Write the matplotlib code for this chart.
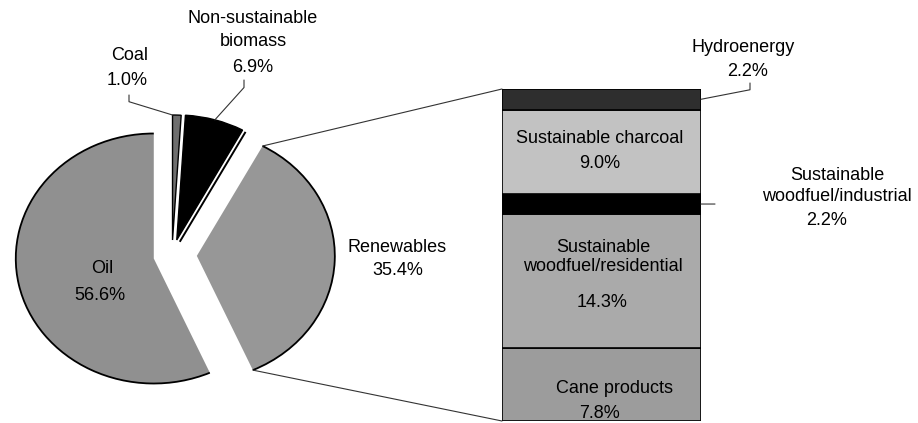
"""Primary energy mix pie with renewables breakdown bar."""

import numpy as np
import matplotlib

matplotlib.use("Agg")
import matplotlib.pyplot as plt
from matplotlib.patches import Arc, ConnectionPatch

# pie: clockwise from 12 o'clock
pie_labels = ["Coal", "Non-sustainable\nbiomass", "Renewables", "Oil"]
pie_values = [1.0, 6.9, 35.4, 56.6]
pie_colors = ["#6e6e6e", "#000000", "#979797", "#909090"]
pie_explode = [0.12, 0.125, 0.18, 0.135]

# renewables breakdown, stacked from the bottom
bar_labels = [
    "Cane products",
    "Sustainable\nwoodfuel/residential",
    "Sustainable\nwoodfuel/industrial",
    "Sustainable charcoal",
    "Hydroenergy",
]
bar_values = [7.8, 14.3, 2.2, 9.0, 2.2]
bar_colors = ["#9c9c9c", "#aaaaaa", "#000000", "#c2c2c2", "#2e2e2e"]

W, H = 918, 423
FONT = "Liberation Sans"
FS = 13


def fx(x):
    return x / W


def fy(y):
    return 1 - y / H


def label(fig, x, y, s, ls=1.2):
    fig.text(fx(x), fy(y), s, ha="center", va="center", family=FONT,
             fontsize=FS, linespacing=ls)


fig = plt.figure(figsize=(W / 100, H / 100), dpi=100)

# ---- pie (elliptical: auto aspect) ----
rx, ry = 138, 125
cx, cy = 172, 255
ax_pie = fig.add_axes([fx(cx - 1.5 * rx), fy(cy + 1.5 * ry), 3 * rx / W, 3 * ry / H])
wedges, _ = ax_pie.pie(
    pie_values,
    explode=pie_explode,
    colors=pie_colors,
    startangle=90,
    counterclock=False,
    wedgeprops=dict(edgecolor="black", linewidth=1.0),
)
ax_pie.set_aspect("auto")
ax_pie.set_xlim(-1.5, 1.5)
ax_pie.set_ylim(-1.5, 1.5)
ax_pie.axis("off")

# big slices: outline only on the outer arc
for w in (wedges[2], wedges[3]):
    w.set_edgecolor("none")
    ax_pie.add_patch(Arc(w.center, 2 * w.r, 2 * w.r, theta1=w.theta1, theta2=w.theta2,
                         color="black", linewidth=1.3))


def wedge_point(w, ang):
    t = np.deg2rad(ang)
    return (w.center[0] + w.r * np.cos(t), w.center[1] + w.r * np.sin(t))


# shadow line along the right edge of the non-sustainable slice
nsb = wedges[1]
t = np.deg2rad(nsb.theta1)
d = np.array([rx * np.cos(t), ry * np.sin(t)])
d = d / np.hypot(*d)
off = np.array([d[1] * 3.5 / rx, -d[0] * 3.5 / ry])
p0 = np.array(nsb.center) + off
p1 = np.array(wedge_point(nsb, nsb.theta1)) + off
ax_pie.plot([p0[0], p1[0]], [p0[1], p1[1]], color="black", linewidth=1.4,
            solid_capstyle="butt")

# ---- stacked bar ----
bx0, bx1, by0, by1 = 502, 701, 89, 421
ax_bar = fig.add_axes([fx(bx0), fy(by1), (bx1 - bx0) / W, (by1 - by0) / H])
bottoms = np.concatenate([[0], np.cumsum(bar_values)[:-1]])
total = float(np.sum(bar_values))
ax_bar.bar(0.5, bar_values, width=1.0, bottom=bottoms, color=bar_colors,
           edgecolor="black", linewidth=1.2)
ax_bar.set_xlim(0, 1)
ax_bar.set_ylim(0, total)
ax_bar.axis("off")

# zoom lines from renewables slice to the bar
ren = wedges[2]
for ang, yb in ((ren.theta2, total), (ren.theta1, 0)):
    con = ConnectionPatch(xyA=wedge_point(ren, ang), coordsA=ax_pie.transData,
                          xyB=(0, yb), coordsB=ax_bar.transData,
                          color="#333333", linewidth=0.8)
    fig.add_artist(con)

# ---- leaders ----
lead = dict(arrowstyle="-", shrinkA=0, shrinkB=0, color="#333333", linewidth=0.8)
coal = wedges[0]
ax_pie.annotate("", xy=wedge_point(coal, coal.theta2), xytext=(129, H - 95),
                textcoords="figure pixels", annotation_clip=False,
                arrowprops=dict(connectionstyle="angle,angleA=90,angleB=-17,rad=0", **lead))
ax_pie.annotate("", xy=wedge_point(nsb, (nsb.theta1 + nsb.theta2) / 2), xytext=(244, H - 80),
                textcoords="figure pixels", annotation_clip=False,
                arrowprops=dict(connectionstyle="angle,angleA=90,angleB=48,rad=0", **lead))
ax_bar.annotate("", xy=(1, bottoms[4] + bar_values[4] / 2), xytext=(750, H - 83),
                textcoords="figure pixels", annotation_clip=False,
                arrowprops=dict(connectionstyle="angle,angleA=90,angleB=11,rad=0", **lead))
ax_bar.annotate("", xy=(1, bottoms[2] + bar_values[2] / 2), xytext=(14, 0),
                textcoords="offset pixels", annotation_clip=False,
                arrowprops=dict(**lead))

# ---- labels: (name x, name y, pct x, pct y, line spacing) in pixels ----
pie_pos = [(130, 55, 127, 80, 1.2), (253, 30, 253, 68, 1.4),
           (397, 247, 398, 270, 1.2), (102, 268, 100, 295, 1.2)]
for name, val, (nx, ny, px, py, ls) in zip(pie_labels, pie_values, pie_pos):
    label(fig, nx, ny, name, ls)
    label(fig, px, py, "%.1f%%" % val)

bar_pos = [(615, 388, 600, 413, 1.2), (603, 257, 602, 302, 1.2),
           (837, 186, 827, 220, 1.3), (600, 138, 600, 163, 1.2),
           (743, 47, 748, 72, 1.2)]
for name, val, (nx, ny, px, py, ls) in zip(bar_labels, bar_values, bar_pos):
    label(fig, nx, ny, name, ls)
    label(fig, px, py, "%.1f%%" % val)

fig.savefig("out.png", dpi=100)
plt.close(fig)
